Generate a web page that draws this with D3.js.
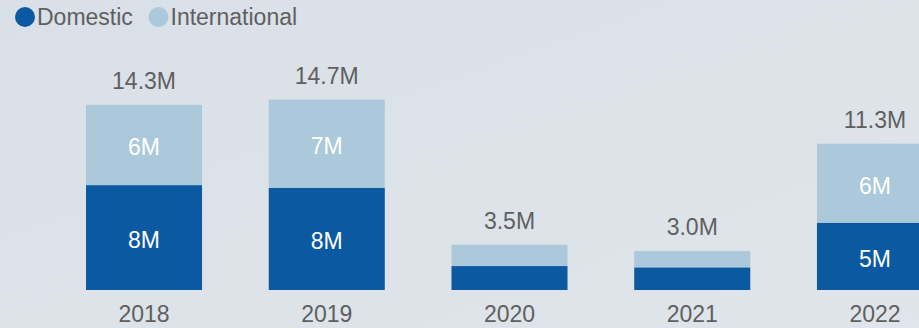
<!DOCTYPE html>
<html>
<head>
<meta charset="utf-8">
<script src="https://cdn.jsdelivr.net/npm/d3@7"></script>
<style>
  html, body { margin: 0; padding: 0; }
  body { width: 919px; height: 328px; overflow: hidden; }
  svg { display: block; font-family: "Liberation Sans", Arial, sans-serif; }
</style>
</head>
<body>
<svg id="chart" width="919" height="328"></svg>
<script>
const years = ["2018", "2019", "2020", "2021", "2022"];
const domestic = [8.1, 7.9, 1.85, 1.75, 5.2];
const international = [6.2, 6.8, 1.65, 1.25, 6.1];
const seriesNames = ["Domestic", "International"];
const seriesColors = ["#0b5aa1", "#abc9da"];

const svg = d3.select("#chart");
const W = 919, H = 328;

const defs = svg.append("defs");
const grad = defs.append("linearGradient").attr("id", "bg")
  .attr("x1", "0").attr("y1", "0").attr("x2", "1").attr("y2", "1");
grad.append("stop").attr("offset", "0").attr("stop-color", "#d9e0e7");
grad.append("stop").attr("offset", "1").attr("stop-color", "#dfe5ea");
svg.append("rect").attr("width", W).attr("height", H).attr("fill", "url(#bg)");

const x = d3.scaleBand().domain(years).range([86, 933]).paddingInner(0.365).paddingOuter(0);
const y = d3.scaleLinear().domain([0, 15]).range([290, 290 - 15 * 12.95]);

const rows = years.map((yr, i) => ({ year: yr, Domestic: domestic[i], International: international[i] }));
const stack = d3.stack().keys(seriesNames)(rows);

const g = svg.append("g");
stack.forEach((layer, li) => {
  g.selectAll(null).data(layer).enter().append("rect")
    .attr("x", d => x(d.data.year))
    .attr("width", x.bandwidth())
    .attr("y", d => y(d[1]))
    .attr("height", d => y(d[0]) - y(d[1]))
    .attr("fill", seriesColors[li]);
  g.selectAll(null).data(layer.filter(d => d[1] - d[0] >= 3)).enter().append("text")
    .attr("x", d => x(d.data.year) + x.bandwidth() / 2)
    .attr("y", d => (y(d[0]) + y(d[1])) / 2 + 10.5)
    .attr("text-anchor", "middle")
    .attr("fill", "#ffffff")
    .attr("font-size", 23)
    .text(d => Math.round(d[1] - d[0]) + "M");
});

// totals
g.selectAll(null).data(rows).enter().append("text")
  .attr("x", d => x(d.year) + x.bandwidth() / 2)
  .attr("y", d => y(d.Domestic + d.International) - 16)
  .attr("text-anchor", "middle")
  .attr("fill", "#5f5f5f")
  .attr("font-size", 23)
  .text(d => d3.format(".1f")(d.Domestic + d.International) + "M");

// x axis labels
const xAxis = d3.axisBottom(x).tickSize(0).tickPadding(0);
const ax = svg.append("g").attr("transform", "translate(0,290)").call(xAxis);
ax.select(".domain").remove();
ax.selectAll("text").attr("font-size", 23).attr("fill", "#5f5f5f")
  .attr("font-family", "'Liberation Sans', Arial, sans-serif")
  .attr("dy", null).attr("y", 32);

// legend
const legend = svg.append("g");
const legendX = [25, 158.5];
seriesNames.forEach((name, i) => {
  legend.append("circle").attr("cx", legendX[i]).attr("cy", 17).attr("r", 10).attr("fill", seriesColors[i]);
  legend.append("text").attr("x", legendX[i] + 12).attr("y", 24.5)
    .attr("font-size", 23).attr("fill", "#5f5f5f").text(name);
});
</script>
</body>
</html>
